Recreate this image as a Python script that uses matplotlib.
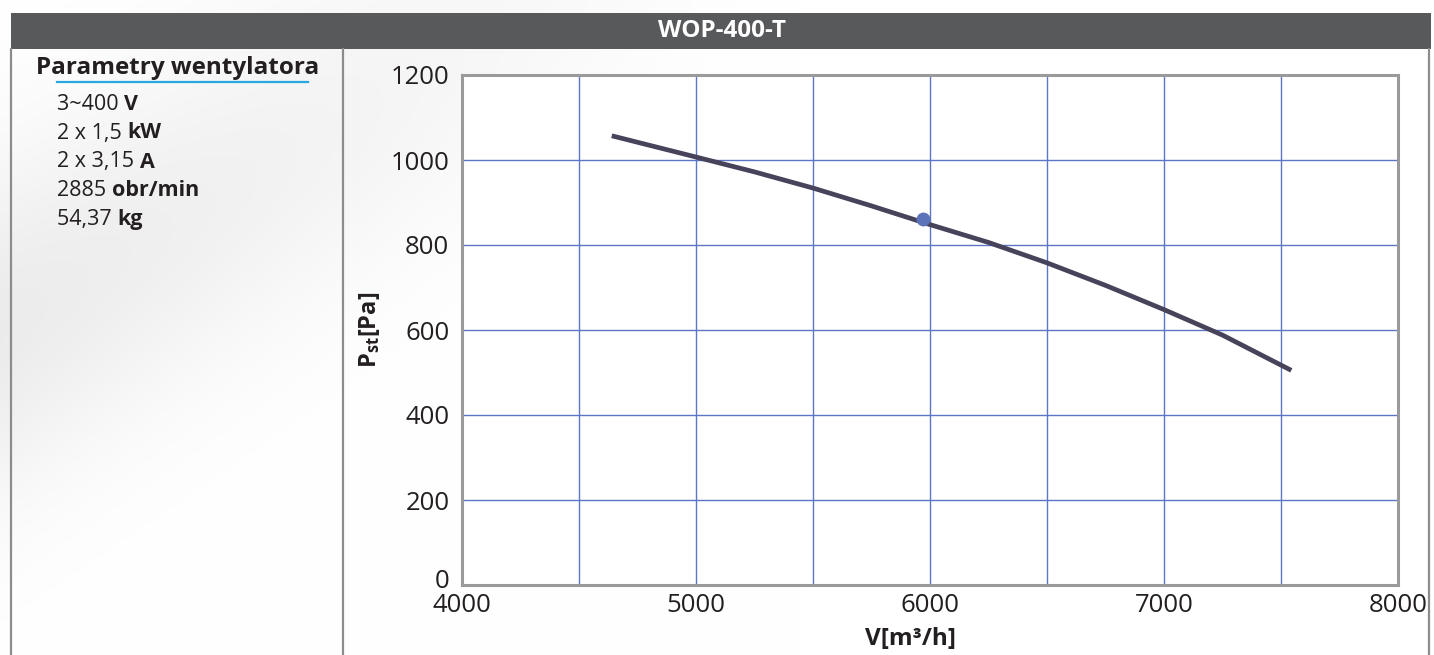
import matplotlib
matplotlib.use('Agg')
import matplotlib.pyplot as plt
import matplotlib.transforms as mtransforms
import numpy as np
from matplotlib.patches import Rectangle
from matplotlib.lines import Line2D

plt.rcParams['font.family'] = ['Open Sans', 'DejaVu Sans']
plt.rcParams['mathtext.fontset'] = 'custom'
plt.rcParams['mathtext.rm'] = 'Open Sans'
plt.rcParams['mathtext.bf'] = 'Open Sans:bold'

# data
flow = [4640, 5000, 5250, 5500, 5750, 6000, 6250, 6500, 6750, 7000, 7250, 7544]
pressure = [1057, 1007, 972, 934, 892, 848, 806, 758, 705, 648, 588, 505]
work_point = (5970, 860)

title = 'WOP-400-T'
params_head = 'Parametry wentylatora'
param_values = ['3~400', '2 x 1,5', '2 x 3,15', '2885', '54,37']
param_units = ['V', 'kW', 'A', 'obr/min', 'kg']

W, H = 1434, 655
fig = plt.figure(figsize=(W / 100, H / 100), dpi=100)
fig.patch.set_facecolor('white')

# faint background swoosh (top-left)
bg = fig.add_axes([0, 0, 1, 1], zorder=-10)
yy, xx = np.mgrid[0:H:2, 0:W:2]
d = (yy + 0.6 * xx - 330) / 170.0
shade = 1 - 0.075 * np.exp(-d ** 2) * np.clip(1 - xx / 800, 0, 1)
bg.imshow(np.dstack([shade] * 3), extent=[0, W, H, 0], aspect='auto')
bg.set_xlim(0, W)
bg.set_ylim(H, 0)
bg.axis('off')

def fx(px):
    return px / W

def fy(py):
    return 1 - py / H

# header bar
fig.patches.append(Rectangle((fx(11), fy(49)), fx(1431) - fx(11), fy(13) - fy(49),
                             transform=fig.transFigure, facecolor='#58595b', edgecolor='none'))
fig.text(fx(722), fy(31), title, color='white', fontsize=17.5, fontweight='bold',
         ha='center', va='center')

# frame lines
for px in [11, 343, 1429]:
    fig.lines.append(Line2D([fx(px), fx(px)], [fy(49), 0], transform=fig.transFigure,
                            color='#8c8c8c', lw=1.6))

# parameter block
fig.text(fx(178), fy(68), params_head, fontsize=17.5, fontweight='bold',
         color='#231f20', ha='center', va='center')
fig.lines.append(Line2D([fx(57), fx(308)], [fy(82), fy(82)], transform=fig.transFigure,
                        color='#29a8e0', lw=1.6))
fig.canvas.draw()
rend = fig.canvas.get_renderer()
for i, (v, u) in enumerate(zip(param_values, param_units)):
    t = fig.text(fx(57), fy(104 + 29 * i), v + ' ', fontsize=15.5, color='#231f20',
                 ha='left', va='center')
    bb = t.get_window_extent(renderer=rend)
    fig.text(bb.x1 / W, fy(104 + 29 * i), u, fontsize=15.5, fontweight='bold',
             color='#231f20', ha='left', va='center')

# chart
ax = fig.add_axes([fx(462), fy(585), fx(1398) - fx(462), fy(75) - fy(585)])
ax.set_facecolor('white')
ax.set_xlim(4000, 8000)
ax.set_ylim(0, 1200)
ax.set_xticks(np.arange(4000, 8001, 500))
ax.set_xticklabels(['4000', '', '5000', '', '6000', '', '7000', '', '8000'])
ax.set_yticks(np.arange(0, 1201, 200))
ax.grid(True, color='#5b76c4', lw=1.0)
ax.set_axisbelow(True)
ax.tick_params(length=0, labelsize=18.5, colors='#231f20')
ax.tick_params(axis='x', pad=6)
ax.tick_params(axis='y', pad=9)
for s in ax.spines.values():
    s.set_color('#9a9a9a')
    s.set_linewidth(2.2)

# lift the "0" label a little, as in the reference
fig.canvas.draw()
zero_lbl = ax.get_yticklabels()[0]
zero_lbl.set_transform(zero_lbl.get_transform() +
                       mtransforms.ScaledTranslation(0, 6 / 100, fig.dpi_scale_trans))

ax.plot(flow, pressure, color='#46435a', lw=3.4, solid_capstyle='butt',
        solid_joinstyle='round', zorder=3)
ax.plot(*work_point, 'o', color='#5b73b8', ms=10, mec='none', zorder=4)

ax.set_ylabel(r'$\mathbf{P_{st}[Pa]}$', fontsize=17, color='#231f20', labelpad=6)
fig.text(fx(910), fy(627), 'V[m³/h]', fontsize=17.5, fontweight='bold', color='#231f20',
         ha='center', va='top')

fig.savefig('out.png', dpi=100)
